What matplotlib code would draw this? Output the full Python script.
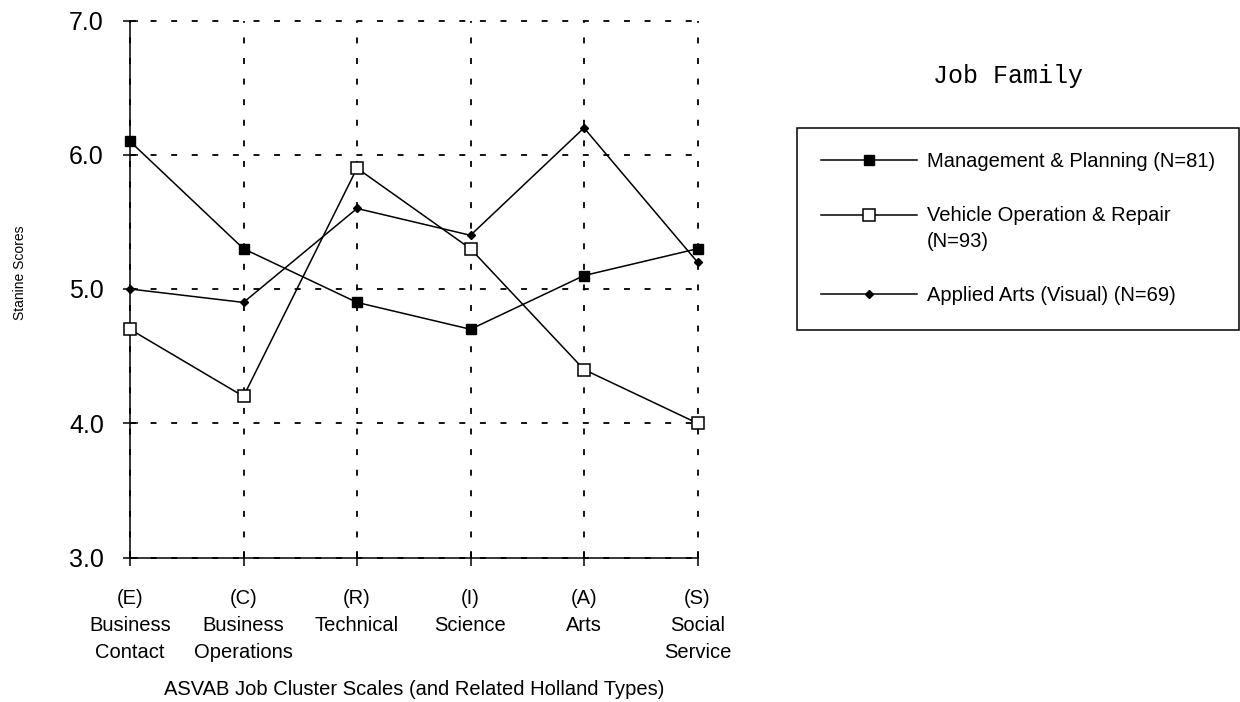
import matplotlib
matplotlib.use("Agg")
import matplotlib.pyplot as plt
from matplotlib.legend_handler import HandlerLine2D
import numpy as np

# ---- data ----
categories = ["(E)\nBusiness\nContact", "(C)\nBusiness\nOperations", "(R)\nTechnical",
              "(I)\nScience", "(A)\nArts", "(S)\nSocial\nService"]
management = [6.1, 5.3, 4.9, 4.7, 5.1, 5.3]
vehicle = [4.7, 4.2, 5.9, 5.3, 4.4, 4.0]
applied_arts = [5.0, 4.9, 5.6, 5.4, 6.2, 5.2]
series_labels = ["Management & Planning (N=81)",
                 "Vehicle Operation & Repair\n(N=93)",
                 "Applied Arts (Visual) (N=69)"]
yticks = [3.0, 4.0, 5.0, 6.0, 7.0]
ytick_labels = ["3.0", "4.0", "5.0", "6.0", "7.0"]

plt.rcParams['font.family'] = ['Liberation Sans', 'DejaVu Sans']

W, H = 1240, 702
fig = plt.figure(figsize=(W / 100, H / 100), dpi=100)
ax = fig.add_axes([130 / W, 1 - 557.5 / H, (697.5 - 130) / W, (557.5 - 20.5) / H])

x = np.arange(len(categories))
lw = 1.1
l1, = ax.plot(x, management, color='black', lw=lw, marker='s', ms=7.2,
              mfc='black', mec='black', clip_on=False, zorder=5)
l2, = ax.plot(x, vehicle, color='black', lw=lw, marker='s', ms=8.5,
              mfc='white', mec='black', mew=1.1, clip_on=False, zorder=5)
l3, = ax.plot(x, applied_arts, color='black', lw=lw, marker='D', ms=4.5,
              mfc='black', mec='black', clip_on=False, zorder=5)

ax.set_xlim(0, len(categories) - 1)
ax.set_ylim(3, 7)
ax.set_yticks(yticks)
ax.set_yticklabels(ytick_labels, fontsize=18)
ax.set_xticks(x)
ax.set_xticklabels(categories, fontsize=14.5, linespacing=1.55)
ax.tick_params(axis='both', direction='inout', length=10.8, width=1.1, color='black')
ax.tick_params(axis='y', pad=13.5)
ax.tick_params(axis='x', pad=17)

for s in ['top', 'right']:
    ax.spines[s].set_visible(False)
for s in ['left', 'bottom']:
    ax.spines[s].set_linewidth(1.1)

ax.grid(True, color='black', lw=1.3, linestyle=(0, (3.3, 8.1)))
for gl in ax.get_xgridlines() + ax.get_ygridlines():
    gl.set_clip_on(False)
ax.set_axisbelow(True)

ax.set_xlabel("ASVAB Job Cluster Scales (and Related Holland Types)", fontsize=14.5, labelpad=13)
fig.text(20 / W, 1 - 273 / H, "Stanine Scores", rotation=90, ha='center', va='center',
         fontsize=10)

fig.text(1008 / W, 1 - 76 / H, "Job Family", ha='center', va='center',
         fontsize=18, family=['Liberation Mono', 'DejaVu Sans Mono'])


class ShiftedHandler(HandlerLine2D):
    def __init__(self, dy=0.0, **kw):
        super().__init__(**kw)
        self.dy = dy

    def create_artists(self, legend, orig_handle, xdescent, ydescent, width, height, fontsize, trans):
        return super().create_artists(legend, orig_handle, xdescent, ydescent - self.dy,
                                      width, height, fontsize, trans)


leg = ax.legend([l1, l2, l3], series_labels, loc='upper left',
                bbox_to_anchor=(797 / W, 1 - 128 / H), bbox_transform=fig.transFigure,
                borderaxespad=0, fontsize=14.5, handlelength=4.75, handletextpad=0.5,
                borderpad=1.2, labelspacing=1.75, numpoints=1, fancybox=False,
                framealpha=1, edgecolor='black',
                handler_map={l2: ShiftedHandler(dy=20.5, numpoints=1)})
leg.get_frame().set_linewidth(1.1)
for t in leg.get_texts():
    t.set_linespacing(1.45)

fig.savefig("out.png", dpi=100)
